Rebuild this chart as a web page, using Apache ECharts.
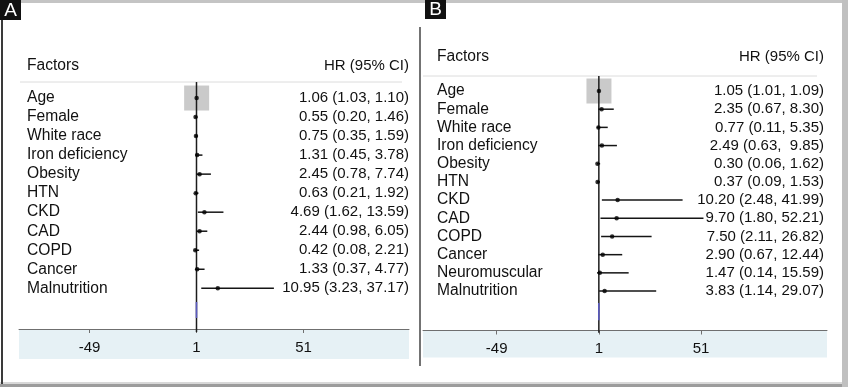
<!DOCTYPE html>
<html><head><meta charset="utf-8">
<script src="https://cdn.jsdelivr.net/npm/echarts@6/dist/echarts.min.js"></script>
<style>html,body{margin:0;padding:0;background:#fff}#c{width:848px;height:390px}</style>
</head><body><div id="c"></div>
<script>
// ---- Panel A data ----
const factorsA = ['Age','Female','White race','Iron deficiency','Obesity','HTN','CKD','CAD','COPD','Cancer','Malnutrition'];
const hrA = [1.06,0.55,0.75,1.31,2.45,0.63,4.69,2.44,0.42,1.33,10.95];
const loA = [1.03,0.20,0.35,0.45,0.78,0.21,1.62,0.98,0.08,0.37,3.23];
const hiA = [1.10,1.46,1.59,3.78,7.74,1.92,13.59,6.05,2.21,4.77,37.17];
const hrTextA = ['1.06 (1.03, 1.10)','0.55 (0.20, 1.46)','0.75 (0.35, 1.59)','1.31 (0.45, 3.78)','2.45 (0.78, 7.74)','0.63 (0.21, 1.92)','4.69 (1.62, 13.59)','2.44 (0.98, 6.05)','0.42 (0.08, 2.21)','1.33 (0.37, 4.77)','10.95 (3.23, 37.17)'];
// ---- Panel B data ----
const factorsB = ['Age','Female','White race','Iron deficiency','Obesity','HTN','CKD','CAD','COPD','Cancer','Neuromuscular','Malnutrition'];
const hrB = [1.05,2.35,0.77,2.49,0.30,0.37,10.20,9.70,7.50,2.90,1.47,3.83];
const loB = [1.01,0.67,0.11,0.63,0.06,0.09,2.48,1.80,2.11,0.67,0.14,1.14];
const hiB = [1.09,8.30,5.35,9.85,1.62,1.53,41.99,52.21,26.82,12.44,15.59,29.07];
const hrTextB = ['1.05 (1.01, 1.09)','2.35 (0.67, 8.30)','0.77 (0.11, 5.35)','2.49 (0.63,  9.85)','0.30 (0.06, 1.62)','0.37 (0.09, 1.53)','10.20 (2.48, 41.99)','9.70 (1.80, 52.21)','7.50 (2.11, 26.82)','2.90 (0.67, 12.44)','1.47 (0.14, 15.59)','3.83 (1.14, 29.07)'];
// ---- shared ----
const xTicks = [-49, 1, 51];
const headerLeft = 'Factors';
const headerRight = 'HR (95% CI)';
const nullValue = 1;

const FONT = 'Liberation Sans, Arial, sans-serif';
const TXT = '#111';

const A = {xmin:-81.94, xmax:100.3, ymin:-3.05, ymax:12.14, head:-1.70, hline:-0.84, refEnd:12.30, blue:[10.72,11.56]};
const B = {xmin:-85.07, xmax:112.67, ymin:-2.805, ymax:13.17, head:-1.87, hline:-0.825, refEnd:13.30, blue:[11.66,12.60]};

function xAxisFor(g, P) {
  return {type:'value', gridIndex:g, min:P.xmin, max:P.xmax,
    axisLine:{show:true, onZero:false, lineStyle:{color:'#6f6f6f', width:1}},
    axisTick:{show:true, customValues:xTicks, length:4, lineStyle:{color:'#6f6f6f'}},
    axisLabel:{customValues:xTicks, margin:11, fontFamily:FONT, fontSize:15, color:TXT},
    splitLine:{show:false}};
}
function yAxisFor(g, P, pos, names, margin, size) {
  const vals = [P.head].concat(names.map((_, i) => i));
  return {type:'value', gridIndex:g, position:pos, inverse:true, min:P.ymin, max:P.ymax,
    axisLine:{show:false}, axisTick:{show:false}, splitLine:{show:false},
    axisLabel:{inside:true, margin:margin, customValues:vals, fontFamily:FONT, fontSize:size, color:TXT,
      formatter:(v) => v < 0 ? (pos === 'left' ? headerLeft : headerRight) : names[Math.round(v)]}};
}
function panelSeries(xi, yi, P, hr, lo, hi) {
  return [
    {type:'line', xAxisIndex:xi, yAxisIndex:yi, silent:true, clip:false, symbol:'none', z:2,
      lineStyle:{color:'#1c1c1c', width:1.5}, data:[[nullValue, P.hline],[nullValue, P.refEnd]]},
    {type:'line', xAxisIndex:xi, yAxisIndex:yi, silent:true, symbol:'none', z:3,
      lineStyle:{color:'#5b5bc0', width:1.6}, data:[[nullValue, P.blue[0]],[nullValue, P.blue[1]]]},
    {type:'scatter', xAxisIndex:xi, yAxisIndex:yi, silent:true, symbol:'rect', symbolSize:25, z:1,
      itemStyle:{color:'#bdbdbd'}, data:[[hr[0], 0]]},
    {type:'custom', xAxisIndex:xi, yAxisIndex:yi, silent:true, z:4,
      data: lo.map((l, i) => [l, hi[i], i]),
      encode:{x:[0,1], y:2},
      renderItem(params, api) {
        const a = api.coord([api.value(0), api.value(2)]);
        const b = api.coord([api.value(1), api.value(2)]);
        return {type:'line', shape:{x1:a[0], y1:a[1], x2:b[0], y2:b[1]}, style:{stroke:'#151515', lineWidth:1.5}};
      }},
    {type:'scatter', xAxisIndex:xi, yAxisIndex:yi, silent:true, symbol:'circle', symbolSize:4.5, z:5,
      itemStyle:{color:'#000'}, data: hr.map((v, i) => [v, i])}
  ];
}

const chart = echarts.init(document.getElementById('c'), null, {renderer:'canvas'});
chart.setOption({
  animation:false,
  backgroundColor:'#fff',
  grid:[
    {left:19, width:390, top:40, height:289},
    {left:423, width:404, top:40, height:290.5}
  ],
  xAxis:[xAxisFor(0, A), xAxisFor(1, B)],
  yAxis:[
    yAxisFor(0, A, 'left', factorsA, 8, 15.6),
    yAxisFor(0, A, 'right', hrTextA, 0, 15),
    yAxisFor(1, B, 'left', factorsB, 14, 15.6),
    yAxisFor(1, B, 'right', hrTextB, 3, 15)
  ],
  series:[].concat(panelSeries(0, 0, A, hrA, loA, hiA), panelSeries(1, 2, B, hrB, loB, hiB)),
  graphic:{elements:[
    {type:'rect', z:-10, shape:{x:19, y:329, width:390, height:30}, style:{fill:'#e6f1f5'}},
    {type:'rect', z:-10, shape:{x:423, y:330.5, width:404, height:27}, style:{fill:'#e6f1f5'}},
    {type:'line', z:-5, shape:{x1:20, y1:82, x2:402, y2:82}, style:{stroke:'#dcdcdc', lineWidth:1}},
    {type:'line', z:-5, shape:{x1:423, y1:76, x2:817, y2:76}, style:{stroke:'#dcdcdc', lineWidth:1}},
    {type:'rect', z:-8, shape:{x:0, y:0, width:848, height:3}, style:{fill:'#c4c4c4'}},
    {type:'rect', z:-8, shape:{x:0, y:382, width:848, height:2}, style:{fill:'#d8d8d8'}},
    {type:'rect', z:-8, shape:{x:0, y:384, width:848, height:3}, style:{fill:'#9c9c9c'}},
    {type:'rect', z:-8, shape:{x:842, y:0, width:6, height:387}, style:{fill:'#c0c0c0'}},
    {type:'rect', z:-8, shape:{x:1, y:18, width:2, height:366}, style:{fill:'#3a3a3a'}},
    {type:'line', z:-8, shape:{x1:420, y1:27, x2:420, y2:366}, style:{stroke:'#444', lineWidth:1.5}},
    {type:'rect', z:20, shape:{x:0, y:0, width:21, height:20}, style:{fill:'#111'}},
    {type:'text', z:21, x:10.5, y:10.5, style:{text:'A', fill:'#fff', font:'19px Liberation Sans', align:'center', verticalAlign:'middle'}},
    {type:'rect', z:20, shape:{x:425, y:0, width:21, height:19}, style:{fill:'#111'}},
    {type:'text', z:21, x:435.5, y:10, style:{text:'B', fill:'#fff', font:'19px Liberation Sans', align:'center', verticalAlign:'middle'}}
  ]}
});
</script>
</body></html>
